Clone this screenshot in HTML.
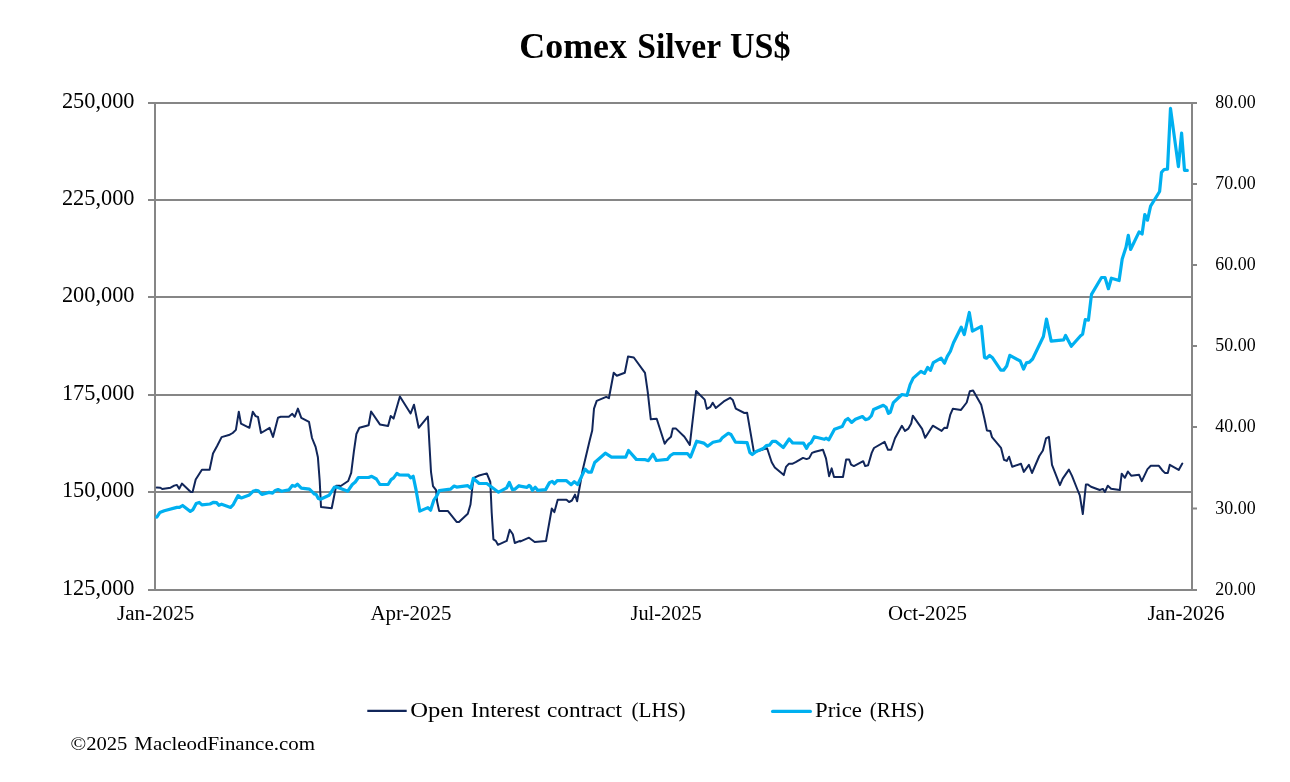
<!DOCTYPE html>
<html lang="en"><head><meta charset="utf-8"><title>Comex Silver US$</title>
<style>
html,body{margin:0;padding:0;background:#fff;}
body{width:1290px;height:782px;overflow:hidden;font-family:"Liberation Serif",serif;}
svg{display:block;}
text{font-family:"Liberation Serif",serif;fill:#000;}
</style></head><body>
<svg width="1290" height="782" viewBox="0 0 1290 782">
<rect width="1290" height="782" fill="#fff"/>

<g stroke="#868686" stroke-width="2" fill="none">
<line x1="148.0" y1="103.0" x2="1192.0" y2="103.0"/>
<line x1="148.0" y1="200.0" x2="1192.0" y2="200.0"/>
<line x1="148.0" y1="297.0" x2="1192.0" y2="297.0"/>
<line x1="148.0" y1="395.0" x2="1192.0" y2="395.0"/>
<line x1="148.0" y1="492.0" x2="1192.0" y2="492.0"/>
<line x1="148.0" y1="590.0" x2="1192.0" y2="590.0"/>
<line x1="1192.0" y1="103.0" x2="1197.0" y2="103.0"/>
<line x1="1192.0" y1="184.0" x2="1197.0" y2="184.0"/>
<line x1="1192.0" y1="265.0" x2="1197.0" y2="265.0"/>
<line x1="1192.0" y1="346.0" x2="1197.0" y2="346.0"/>
<line x1="1192.0" y1="427.0" x2="1197.0" y2="427.0"/>
<line x1="1192.0" y1="508.5" x2="1197.0" y2="508.5"/>
<line x1="1192.0" y1="590.0" x2="1197.0" y2="590.0"/>
<line x1="155.0" y1="103" x2="155.0" y2="590"/>
<line x1="1192.0" y1="103" x2="1192.0" y2="590"/>
</g>
<text x="519.3" y="57.9" font-size="35.5" font-weight="bold" textLength="107.6" lengthAdjust="spacingAndGlyphs">Comex</text>
<text x="637.2" y="57.9" font-size="35.5" font-weight="bold" textLength="84.0" lengthAdjust="spacingAndGlyphs">Silver</text>
<text x="730.0" y="57.9" font-size="35.5" font-weight="bold" textLength="60.5" lengthAdjust="spacingAndGlyphs">US$</text>
<text x="61.9" y="107.9" font-size="23.4" textLength="72.6" lengthAdjust="spacingAndGlyphs">250,000</text>
<text x="61.9" y="204.9" font-size="23.4" textLength="72.6" lengthAdjust="spacingAndGlyphs">225,000</text>
<text x="61.9" y="301.9" font-size="23.4" textLength="72.6" lengthAdjust="spacingAndGlyphs">200,000</text>
<text x="61.9" y="399.9" font-size="23.4" textLength="72.6" lengthAdjust="spacingAndGlyphs">175,000</text>
<text x="61.9" y="496.9" font-size="23.4" textLength="72.6" lengthAdjust="spacingAndGlyphs">150,000</text>
<text x="61.9" y="594.9" font-size="23.4" textLength="72.6" lengthAdjust="spacingAndGlyphs">125,000</text>
<text x="1215.3" y="108.4" font-size="18.3" textLength="40.3" lengthAdjust="spacingAndGlyphs">80.00</text>
<text x="1215.3" y="189.4" font-size="18.3" textLength="40.3" lengthAdjust="spacingAndGlyphs">70.00</text>
<text x="1215.3" y="270.4" font-size="18.3" textLength="40.3" lengthAdjust="spacingAndGlyphs">60.00</text>
<text x="1215.3" y="351.4" font-size="18.3" textLength="40.3" lengthAdjust="spacingAndGlyphs">50.00</text>
<text x="1215.3" y="432.4" font-size="18.3" textLength="40.3" lengthAdjust="spacingAndGlyphs">40.00</text>
<text x="1215.3" y="513.9" font-size="18.3" textLength="40.3" lengthAdjust="spacingAndGlyphs">30.00</text>
<text x="1215.3" y="595.4" font-size="18.3" textLength="40.3" lengthAdjust="spacingAndGlyphs">20.00</text>
<text x="117.0" y="620" font-size="20.5" textLength="77.3" lengthAdjust="spacingAndGlyphs">Jan-2025</text>
<text x="370.4" y="620" font-size="20.5" textLength="81.2" lengthAdjust="spacingAndGlyphs">Apr-2025</text>
<text x="630.5" y="620" font-size="20.5" textLength="71.1" lengthAdjust="spacingAndGlyphs">Jul-2025</text>
<text x="887.9" y="620" font-size="20.5" textLength="79.1" lengthAdjust="spacingAndGlyphs">Oct-2025</text>
<text x="1147.4" y="620" font-size="20.5" textLength="77.2" lengthAdjust="spacingAndGlyphs">Jan-2026</text>
<polyline points="156.8,487.6 160.4,487.7 162.2,489.0 170.6,487.7 174.2,485.6 176.9,484.9 179.2,488.8 181.9,483.6 190.8,491.9 192.6,491.9 195.7,479.5 201.9,469.7 209.6,469.8 213.0,453.5 217.1,446.0 221.6,437.1 229.7,434.7 232.7,433.0 235.9,429.9 238.8,411.7 241.0,423.6 249.4,427.8 252.8,411.7 255.6,416.1 258.0,417.0 261.0,433.0 269.6,427.8 273.0,436.9 278.0,417.7 280.7,416.8 288.8,416.8 292.3,413.8 294.7,416.8 297.9,408.6 301.3,417.9 309.0,421.9 312.0,438.0 315.6,446.9 317.9,457.3 319.7,480.9 321.0,506.9 331.7,508.2 336.2,485.8 339.8,485.8 340.0,486.5 348.2,481.0 351.2,472.8 353.9,451.3 356.4,434.0 359.4,427.8 368.6,425.2 371.1,411.5 379.9,424.4 388.1,426.0 390.7,416.0 393.6,418.6 399.9,396.5 410.6,413.5 414.0,404.7 418.7,427.8 427.9,416.6 429.6,447.3 431.0,471.8 433.0,486.1 436.1,490.2 437.1,501.5 439.2,511.1 448.0,511.1 456.6,521.9 459.0,521.9 467.8,513.7 470.5,504.5 472.5,486.1 473.9,477.9 479.1,475.5 486.8,473.4 490.3,482.0 491.7,512.7 493.4,539.3 495.8,540.9 497.9,544.8 506.7,540.9 509.7,529.7 512.8,534.2 514.8,543.0 520.0,540.9 520.0,541.6 529.0,537.7 534.7,542.0 546.0,541.1 551.8,508.5 554.4,512.1 557.7,499.7 566.5,499.7 569.1,502.0 571.9,500.5 575.0,494.6 577.1,501.2 582.8,469.5 589.8,440.0 592.2,430.6 594.0,408.6 596.7,400.9 606.2,396.9 608.9,398.2 613.7,372.8 616.8,375.8 624.8,372.8 628.0,356.6 633.8,357.5 645.0,372.8 647.7,391.6 650.8,419.3 656.7,418.8 664.7,443.8 667.4,439.9 671.0,436.7 672.8,428.4 676.0,428.6 684.4,436.7 689.8,444.9 696.1,391.0 704.7,399.6 706.8,408.9 710.4,406.8 712.7,402.7 715.8,408.0 723.8,401.4 730.1,397.8 732.8,400.1 735.8,408.6 744.4,413.0 747.1,412.7 753.9,452.2 767.1,448.3 771.7,462.2 774.8,467.4 783.8,475.1 786.0,466.9 788.8,463.8 792.2,463.8 795.7,462.2 803.0,457.9 806.6,459.1 809.2,458.1 812.0,452.9 815.1,451.7 822.9,449.7 826.0,458.4 829.1,476.2 831.7,468.4 834.0,477.0 843.0,477.0 846.1,459.6 849.2,459.6 851.1,464.6 853.9,466.1 863.2,461.2 865.2,466.1 868.1,465.3 871.7,452.9 874.0,448.0 884.6,441.8 888.0,449.8 891.1,449.8 895.0,438.2 901.9,425.8 905.0,430.9 908.4,428.6 911.2,423.5 912.8,415.7 922.1,428.9 925.2,437.8 932.8,425.7 941.6,430.9 944.3,427.8 947.1,428.1 950.2,414.9 952.9,408.7 961.0,409.9 966.7,402.5 969.8,391.3 973.1,390.5 981.2,404.8 984.3,418.0 986.9,430.4 990.2,430.9 992.0,437.1 1001.0,447.8 1004.0,459.8 1006.7,460.9 1009.1,456.7 1012.2,466.8 1021.0,463.7 1023.8,471.9 1028.9,464.8 1032.0,473.0 1039.3,456.0 1042.9,450.5 1046.0,438.4 1048.9,436.9 1052.0,464.8 1059.9,485.1 1062.7,478.6 1068.9,469.6 1072.0,475.9 1077.4,489.5 1079.8,495.4 1082.8,514.1 1085.9,484.6 1088.0,484.6 1091.0,486.7 1099.7,490.0 1102.9,488.9 1104.9,492.0 1107.8,485.7 1111.1,488.7 1119.8,490.0 1121.7,473.7 1124.9,477.8 1127.9,471.5 1131.2,475.7 1139.1,474.8 1141.8,481.1 1147.5,469.1 1150.8,465.8 1158.9,465.8 1162.2,470.2 1164.9,472.9 1167.8,472.9 1169.8,464.8 1178.7,469.9 1182.3,463.6" fill="none" stroke="#11265a" stroke-width="2.0" stroke-linejoin="round" stroke-linecap="round"/>
<polyline points="156.8,517.1 159.8,512.6 164.3,510.8 176.9,507.4 179.5,507.4 182.6,505.5 190.3,511.4 193.0,509.6 196.2,503.5 199.2,502.4 201.9,504.9 210.0,504.0 213.6,502.3 216.6,502.6 218.9,505.3 221.6,504.2 230.6,507.4 233.3,504.6 238.1,495.6 241.3,498.0 249.4,494.9 253.0,491.3 255.6,490.4 258.3,490.8 261.9,494.4 269.1,492.4 272.6,493.1 275.3,490.4 278.0,489.5 281.6,491.3 288.8,489.9 292.3,485.4 295.0,486.3 297.4,484.2 301.3,488.1 309.4,489.2 312.0,491.7 314.4,494.0 316.2,494.6 318.3,498.5 320.5,499.2 329.1,495.3 334.4,487.2 337.1,487.2 340.0,488.2 347.8,491.2 352.3,484.5 355.3,482.0 358.4,477.5 368.6,477.5 371.7,476.3 376.4,479.0 379.9,484.5 388.1,484.5 391.1,479.6 393.6,477.9 396.9,473.4 399.3,474.9 408.5,475.1 410.6,477.9 413.2,476.3 416.1,490.2 419.8,511.1 427.9,507.6 430.6,510.2 433.7,500.4 437.1,495.3 439.2,490.6 450.4,489.2 454.1,486.1 456.6,487.1 467.8,485.7 470.9,488.2 473.3,478.3 479.1,483.5 486.8,483.5 498.5,492.2 506.7,487.8 509.3,482.4 512.4,489.6 514.8,489.2 518.9,485.7 520.0,486.2 527.0,487.3 529.0,485.3 530.5,486.5 532.4,490.4 535.2,487.3 537.8,490.4 545.6,489.6 549.5,482.6 552.2,481.4 554.4,483.7 557.2,480.6 566.2,480.6 571.2,484.7 574.3,481.6 577.7,484.5 585.1,469.1 588.2,472.2 591.3,472.2 594.7,462.5 605.3,453.2 611.5,457.1 625.7,457.1 628.5,450.5 636.3,459.4 645.3,459.7 648.4,460.6 653.0,454.3 656.4,460.5 667.3,459.4 670.4,455.5 673.5,453.6 687.4,453.5 690.5,457.1 696.7,441.2 703.7,443.1 707.6,446.2 713.0,442.3 720.0,440.8 722.0,438.1 728.3,433.3 731.0,434.5 735.5,442.2 747.1,442.6 749.8,452.4 752.3,454.5 756.2,451.4 763.2,448.6 766.3,445.7 769.4,445.2 772.5,441.3 775.6,441.3 783.3,447.5 789.2,439.0 792.6,442.9 803.5,443.2 806.6,448.3 808.9,444.1 811.2,442.6 814.3,436.7 824.4,439.3 826.0,438.2 828.8,439.8 834.5,429.2 842.2,426.6 845.3,420.4 848.0,418.5 851.6,422.4 855.4,419.3 862.4,416.5 865.5,419.6 868.6,418.8 871.4,415.7 873.6,409.5 883.3,405.3 886.1,407.2 888.4,413.4 890.3,412.3 893.4,402.6 901.9,394.5 907.0,395.4 910.1,384.6 913.2,378.1 920.9,371.4 924.5,373.4 927.6,367.5 930.5,370.3 933.3,362.6 941.1,358.2 944.5,363.2 947.3,356.4 950.4,351.2 953.5,342.7 961.2,327.2 964.3,334.5 969.3,312.5 972.4,331.1 981.4,326.4 984.5,357.4 986.5,358.2 989.6,355.4 992.2,357.4 1000.8,370.2 1003.6,370.2 1006.7,366.0 1009.8,355.4 1020.2,361.0 1023.6,369.1 1026.4,362.9 1029.5,362.1 1032.6,359.0 1043.4,336.5 1046.5,319.1 1051.2,341.2 1063.6,339.9 1065.6,335.4 1071.3,346.3 1080.6,335.7 1082.6,334.2 1085.3,319.5 1088.4,320.2 1091.5,294.4 1101.5,277.5 1105.0,277.5 1108.4,288.7 1111.4,278.2 1119.1,280.5 1122.2,259.0 1126.0,247.2 1128.3,235.3 1130.6,249.5 1139.1,231.9 1142.1,234.0 1144.8,214.5 1147.5,220.2 1150.6,206.1 1159.6,191.5 1161.5,172.3 1164.1,169.5 1167.5,169.1 1170.5,108.4 1178.4,166.6 1181.6,133.1 1184.5,170.4 1187.3,170.4" fill="none" stroke="#00b0f0" stroke-width="3.2" stroke-linejoin="round" stroke-linecap="round"/>
<line x1="367.3" y1="710.9" x2="406.7" y2="710.9" stroke="#11265a" stroke-width="2.2"/>
<text x="410.2" y="716.9" font-size="21.8" textLength="53.4" lengthAdjust="spacingAndGlyphs">Open</text>
<text x="470.9" y="716.9" font-size="21.8" textLength="69.3" lengthAdjust="spacingAndGlyphs">Interest</text>
<text x="547.0" y="716.9" font-size="21.8" textLength="75.1" lengthAdjust="spacingAndGlyphs">contract</text>
<text x="631.4" y="716.9" font-size="21.8" textLength="54.2" lengthAdjust="spacingAndGlyphs">(LHS)</text>
<text x="815.1" y="716.9" font-size="21.8" textLength="46.8" lengthAdjust="spacingAndGlyphs">Price</text>
<text x="869.8" y="716.9" font-size="21.8" textLength="54.4" lengthAdjust="spacingAndGlyphs">(RHS)</text>
<line x1="772.6" y1="711.4" x2="810.4" y2="711.4" stroke="#00b0f0" stroke-width="3.2" stroke-linecap="round"/>
<text x="70.5" y="749.7" font-size="19.8" textLength="56.9" lengthAdjust="spacingAndGlyphs">©2025</text>
<text x="134.3" y="749.7" font-size="19.8" textLength="180.6" lengthAdjust="spacingAndGlyphs">MacleodFinance.com</text>
</svg></body></html>
